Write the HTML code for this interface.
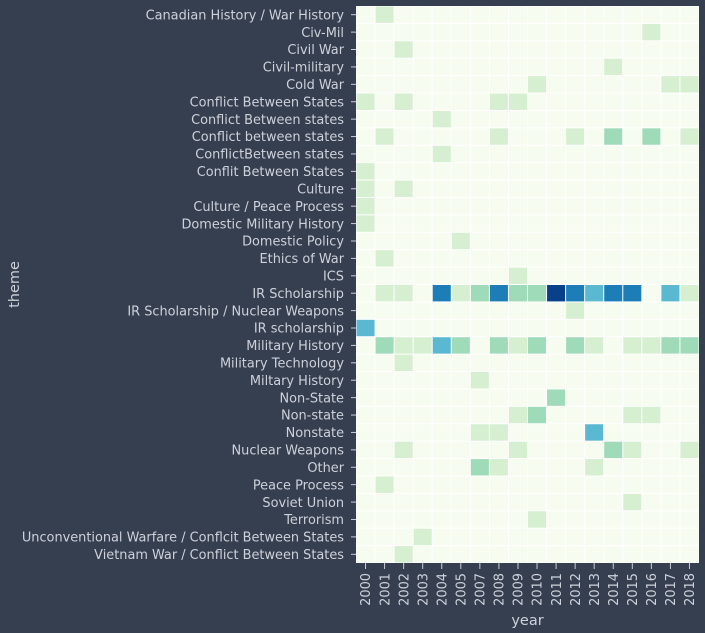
<!DOCTYPE html>
<html><head><meta charset="utf-8"><style>
html,body{margin:0;padding:0;background:#363f50;}
svg{display:block;font-family:"DejaVu Sans","Liberation Sans",sans-serif;}
</style></head><body>
<svg id="chart" width="705" height="633"></svg>
<script>
const themes=["Canadian History / War History","Civ-Mil","Civil War","Civil-military","Cold War","Conflict Between States","Conflict Between states","Conflict between states","ConflictBetween states","Conflit Between States","Culture","Culture / Peace Process","Domestic Military History","Domestic Policy","Ethics of War","ICS","IR Scholarship","IR Scholarship / Nuclear Weapons","IR scholarship","Military History","Military Technology","Miltary History","Non-State","Non-state","Nonstate","Nuclear Weapons","Other","Peace Process","Soviet Union","Terrorism","Unconventional Warfare / Conflcit Between States","Vietnam War / Conflict Between States"];
const years=["2000","2001","2002","2003","2004","2005","2007","2008","2009","2010","2011","2012","2013","2014","2015","2016","2017","2018"];
const counts=[
[0,1,0,0,0,0,0,0,0,0,0,0,0,0,0,0,0,0],
[0,0,0,0,0,0,0,0,0,0,0,0,0,0,0,1,0,0],
[0,0,1,0,0,0,0,0,0,0,0,0,0,0,0,0,0,0],
[0,0,0,0,0,0,0,0,0,0,0,0,0,1,0,0,0,0],
[0,0,0,0,0,0,0,0,0,1,0,0,0,0,0,0,1,1],
[1,0,1,0,0,0,0,1,1,0,0,0,0,0,0,0,0,0],
[0,0,0,0,1,0,0,0,0,0,0,0,0,0,0,0,0,0],
[0,1,0,0,0,0,0,1,0,0,0,1,0,2,0,2,0,1],
[0,0,0,0,1,0,0,0,0,0,0,0,0,0,0,0,0,0],
[1,0,0,0,0,0,0,0,0,0,0,0,0,0,0,0,0,0],
[1,0,1,0,0,0,0,0,0,0,0,0,0,0,0,0,0,0],
[1,0,0,0,0,0,0,0,0,0,0,0,0,0,0,0,0,0],
[1,0,0,0,0,0,0,0,0,0,0,0,0,0,0,0,0,0],
[0,0,0,0,0,1,0,0,0,0,0,0,0,0,0,0,0,0],
[0,1,0,0,0,0,0,0,0,0,0,0,0,0,0,0,0,0],
[0,0,0,0,0,0,0,0,1,0,0,0,0,0,0,0,0,0],
[0,1,1,0,4,1,2,4,2,2,5,4,3,4,4,0,3,1],
[0,0,0,0,0,0,0,0,0,0,0,1,0,0,0,0,0,0],
[3,0,0,0,0,0,0,0,0,0,0,0,0,0,0,0,0,0],
[0,2,1,1,3,2,0,2,1,2,0,2,1,0,1,1,2,2],
[0,0,1,0,0,0,0,0,0,0,0,0,0,0,0,0,0,0],
[0,0,0,0,0,0,1,0,0,0,0,0,0,0,0,0,0,0],
[0,0,0,0,0,0,0,0,0,0,2,0,0,0,0,0,0,0],
[0,0,0,0,0,0,0,0,1,2,0,0,0,0,1,1,0,0],
[0,0,0,0,0,0,1,1,0,0,0,0,3,0,0,0,0,0],
[0,0,1,0,0,0,0,0,1,0,0,0,0,2,1,0,0,1],
[0,0,0,0,0,0,2,1,0,0,0,0,1,0,0,0,0,0],
[0,1,0,0,0,0,0,0,0,0,0,0,0,0,0,0,0,0],
[0,0,0,0,0,0,0,0,0,0,0,0,0,0,1,0,0,0],
[0,0,0,0,0,0,0,0,0,1,0,0,0,0,0,0,0,0],
[0,0,0,1,0,0,0,0,0,0,0,0,0,0,0,0,0,0],
[0,0,1,0,0,0,0,0,0,0,0,0,0,0,0,0,0,0]];
const palette=["#f7fcf0","#d6efd0","#9fdab9","#5ab8d1","#1d7db7","#08408a"];
const NS="http://www.w3.org/2000/svg";
const svg=document.getElementById('chart');
const X0=356,X1=699,Y0=6,Y1=563;
const cw=(X1-X0)/years.length, ch=(Y1-Y0)/themes.length;
const xPos=i=>X0+i*cw, yPos=j=>Y0+j*ch;
function mk(t,a){const e=document.createElementNS(NS,t);for(const k in a)e.setAttribute(k,a[k]);svg.appendChild(e);return e;}
const bg=mk('rect',{x:X0,y:Y0,width:X1-X0,height:Y1-Y0,fill:'#ffffff'});


counts.forEach((row,j)=>row.forEach((v,i)=>{
  const r=mk('rect',{x:xPos(i)+0.5,y:yPos(j)+0.5,width:cw-1,height:ch-1,fill:palette[Math.max(0,Math.min(5,v))]});
  
  
}));
themes.forEach((t,j)=>{
  const cy=yPos(j)+ch/2;
  const tk=mk('line',{x1:X0-5,x2:X0,y1:cy,y2:cy,stroke:'#c8ccd6','stroke-width':1});
  
  
  const tx=mk('text',{x:X0-12,y:cy+4.7,'text-anchor':'end','font-size':'12.9',fill:'#cdd1da'});
  tx.textContent=t;
  
  
});
years.forEach((yr,i)=>{
  const cx=xPos(i)+cw/2;
  const tk=mk('line',{x1:cx,x2:cx,y1:Y1,y2:Y1+6,stroke:'#c8ccd6','stroke-width':1});
  
  
  const tx=mk('text',{x:0,y:0,'text-anchor':'end','font-size':'12.9',fill:'#cdd1da',transform:`translate(${cx+4.7},${Y1+10}) rotate(-90)`});
  tx.textContent=yr;
  
  
});
const xt=mk('text',{x:(X0+X1)/2,y:625,'text-anchor':'middle','font-size':'14.5',fill:'#cdd1da'});
xt.textContent='year';


const yt=mk('text',{x:0,y:0,'text-anchor':'middle','font-size':'14.5',fill:'#cdd1da',transform:`translate(19,${(Y0+Y1)/2}) rotate(-90)`});
yt.textContent='theme';


</script>
</body></html>
